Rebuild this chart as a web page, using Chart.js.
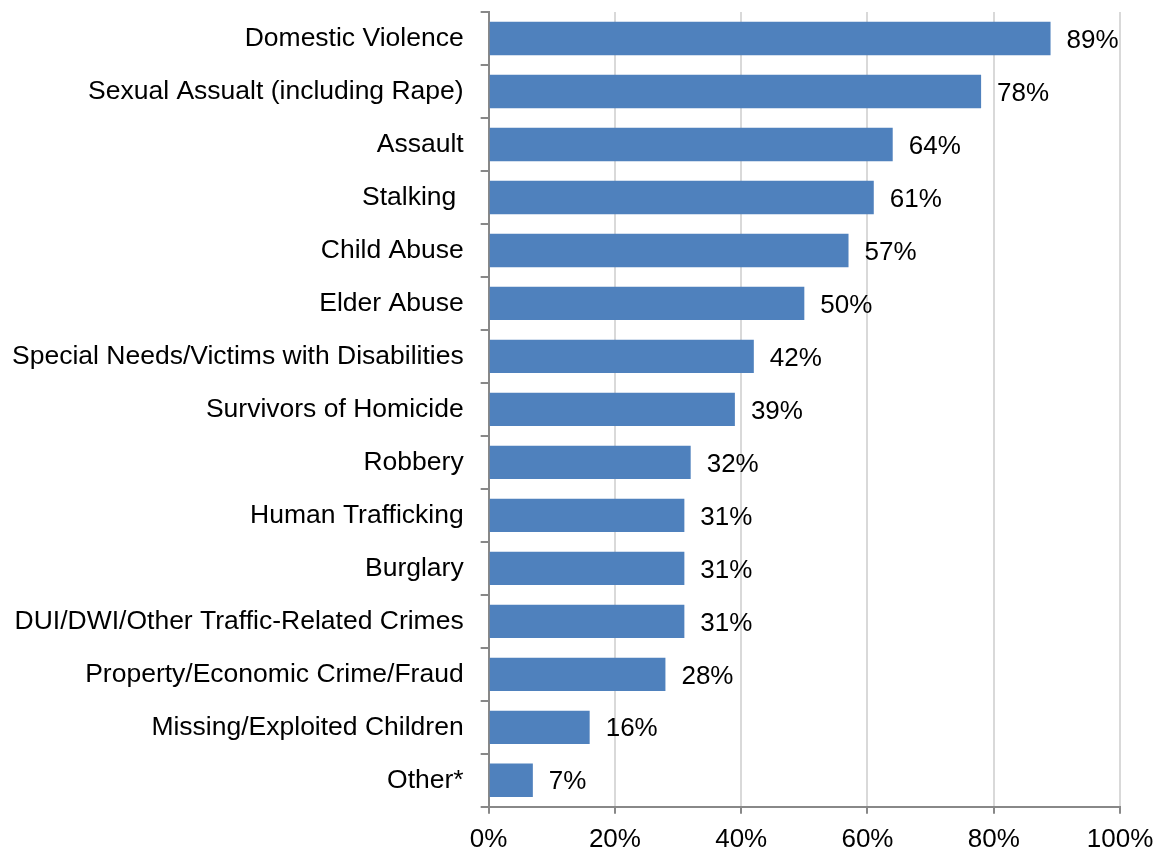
<!DOCTYPE html>
<html>
<head>
<meta charset="utf-8">
<script src="https://cdn.jsdelivr.net/npm/chart.js@4/dist/chart.umd.min.js"></script>
<style>
  html, body { margin: 0; padding: 0; background: #fff; }
  #wrap { width: 1161px; height: 853px; }
</style>
</head>
<body>
<div id="wrap"><canvas id="chart" width="1161" height="853"></canvas></div>
<script>
const categories = [
  'Domestic Violence',
  'Sexual Assualt (including Rape)',
  'Assault',
  'Stalking ',
  'Child Abuse',
  'Elder Abuse',
  'Special Needs/Victims with Disabilities',
  'Survivors of Homicide',
  'Robbery',
  'Human Trafficking',
  'Burglary',
  'DUI/DWI/Other Traffic-Related Crimes',
  'Property/Economic Crime/Fraud',
  'Missing/Exploited Children',
  'Other*'
];
const percents = [89, 78, 64, 61, 57, 50, 42, 39, 32, 31, 31, 31, 28, 16, 7];
const xTicks = [0, 20, 40, 60, 80, 100];

const FONT = '"Liberation Sans", Arial, sans-serif';

// draws "NN%" just to the right of each bar
const valueLabels = {
  id: 'valueLabels',
  afterDatasetsDraw(chart) {
    const ctx = chart.ctx;
    const meta = chart.getDatasetMeta(0);
    ctx.save();
    ctx.font = '26px ' + FONT;
    ctx.fillStyle = '#000';
    ctx.textAlign = 'left';
    ctx.textBaseline = 'middle';
    meta.data.forEach((bar, i) => {
      ctx.fillText(percents[i] + '%', bar.x + 16, bar.y + 2);
    });
    ctx.restore();
  }
};

new Chart(document.getElementById('chart'), {
  type: 'bar',
  data: {
    labels: categories,
    datasets: [{
      data: percents,
      backgroundColor: '#4f81bd',
      borderWidth: 0,
      barPercentage: 0.63,
      categoryPercentage: 1
    }]
  },
  options: {
    indexAxis: 'y',
    responsive: false,
    animation: false,
    layout: { padding: { top: 12, right: 41, left: -5, bottom: -12 } },
    plugins: {
      legend: { display: false },
      tooltip: { enabled: false }
    },
    scales: {
      x: {
        min: 0,
        max: 100,
        afterBuildTicks(axis) {
          axis.ticks = xTicks.map(v => ({ value: v }));
        },
        afterFit(scale) {
          scale.paddingRight = 0;
        },
        ticks: {
          color: '#000',
          font: { family: FONT, size: 26 },
          padding: 10,
          callback: v => v + '%'
        },
        grid: {
          color: '#d9d9d9',
          lineWidth: 2,
          tickColor: '#888',
          tickLength: 7
        },
        border: { color: '#888', width: 2 }
      },
      y: {
        afterFit(scale) {
          scale.paddingTop = 0;
          scale.paddingBottom = 0;
        },
        ticks: {
          color: '#000',
          font: { family: FONT, size: 26.5 },
          padding: 17
        },
        grid: {
          drawOnChartArea: false,
          offset: true,
          color: '#888',
          lineWidth: 2,
          tickLength: 8
        },
        border: { color: '#888', width: 2 }
      }
    }
  },
  plugins: [valueLabels]
});
</script>
</body>
</html>
